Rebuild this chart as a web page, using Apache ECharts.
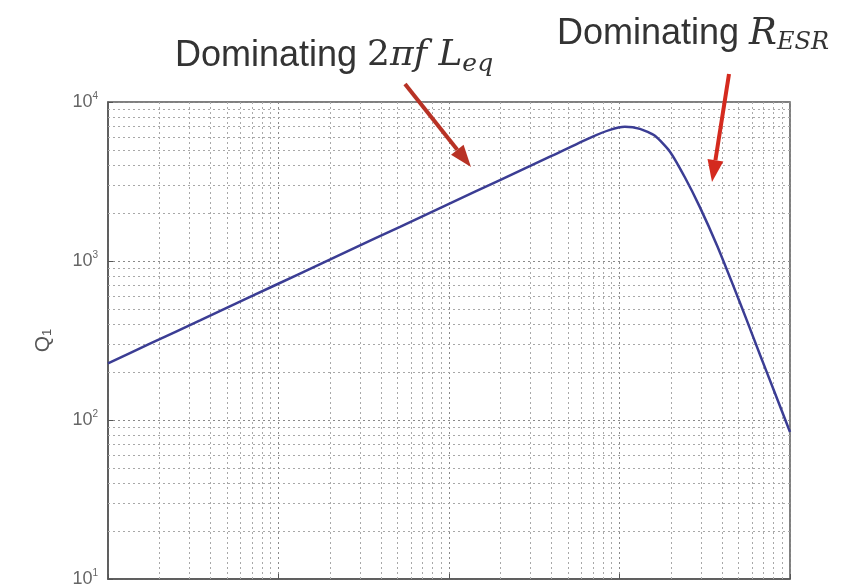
<!DOCTYPE html>
<html>
<head>
<meta charset="utf-8">
<script src="https://cdn.jsdelivr.net/npm/echarts@6/dist/echarts.min.js"></script>
<style>
html,body{margin:0;padding:0;background:#fff;}
#chart{width:856px;height:588px;}
</style>
</head>
<body>
<div id="chart"></div>
<script>
// frequency (arbitrary units, 4 decades, labels cut off in the reference)
const freq = [1, 1.762, 3.467, 6.81, 13.37, 26.24, 51.6, 101.4, 199.1, 390.8, 671.4, 879, 1076, 1318, 1614, 1977, 2421, 2965, 3733, 4634, 5598, 6668, 7943, 10000];
// quality factor Q1
const qValues = [227, 302, 423, 594, 834, 1172, 1641, 2305, 3228, 4530, 5957, 6683, 6982, 6780, 6132, 4870, 3350, 2175, 1252, 705, 420, 257, 159, 84];
// y tick exponents (10^1 .. 10^4)
const yTickExps = [1, 2, 3, 4];
const xDecades = [1, 10, 100, 1000];
const yDecades = [10, 100, 1000];
const annotation1 = 'Dominating';
const annotation2 = 'Dominating';

const chart = echarts.init(document.getElementById('chart'));

const minorX = [];
xDecades.forEach(d => { for (let k = 2; k <= 9; k++) minorX.push(d * k); });
const minorY = [];
yDecades.forEach(d => { for (let k = 2; k <= 9; k++) minorY.push(d * k); });

const gridStyle = {color: '#8a8a8a', width: 1, type: [2, 3]};

function arrow(x1, y1, x2, y2, color) {
  const ang = Math.atan2(y2 - y1, x2 - x1);
  const L = 22, W = 8;
  const bx = x2 - L * Math.cos(ang), by = y2 - L * Math.sin(ang);
  const px = -Math.sin(ang), py = Math.cos(ang);
  return [
    {type: 'line', shape: {x1: x1, y1: y1, x2: bx, y2: by}, style: {stroke: color, lineWidth: 4}, z: 100},
    {type: 'polygon', shape: {points: [[x2, y2], [bx + px * W, by + py * W], [bx - px * W, by - py * W]]}, style: {fill: color}, z: 100}
  ];
}

const option = {
  animation: false,
  backgroundColor: '#ffffff',
  grid: {left: 108, right: 66, top: 102, bottom: 5, show: true, borderColor: '#555', borderWidth: 1.5, containLabel: false},
  xAxis: {
    type: 'log', logBase: 10, min: 1, max: 10000,
    axisLine: {show: true, lineStyle: {color: '#555', width: 1.5}},
    axisTick: {show: true, inside: true, length: 5, lineStyle: {color: '#555'}},
    axisLabel: {show: false},
    splitLine: {show: true, lineStyle: gridStyle},
    minorSplitLine: {show: false}
  },
  yAxis: {
    type: 'log', logBase: 10, min: 10, max: 10000,
    name: '{q|Q}{s|1}', nameLocation: 'middle', nameGap: 54, nameRotate: 90,
    nameTextStyle: {rich: {
      q: {fontFamily: 'Liberation Sans', fontSize: 21, color: '#555'},
      s: {fontFamily: 'Liberation Sans', fontSize: 13, color: '#555', verticalAlign: 'bottom', padding: [9, 0, 0, 0]}
    }},
    axisLine: {show: true, lineStyle: {color: '#555', width: 1.5}},
    axisTick: {show: true, inside: true, length: 5, lineStyle: {color: '#555'}},
    axisLabel: {
      margin: 10,
      formatter: function (v) {
        const e = Math.round(Math.log10(v));
        return yTickExps.indexOf(e) >= 0 ? '{b|10}{e|' + e + '}' : '';
      },
      rich: {
        b: {fontFamily: 'Liberation Sans', fontSize: 18, color: '#666'},
        e: {fontFamily: 'Liberation Sans', fontSize: 10, color: '#666', verticalAlign: 'top', padding: [0, 0, 12, 0]}
      }
    },
    splitLine: {show: true, lineStyle: gridStyle},
    minorSplitLine: {show: false}
  },
  series: [
    {
      type: 'line', silent: true, data: [], symbol: 'none',
      markLine: {
        silent: true, symbol: 'none', label: {show: false}, animation: false,
        lineStyle: {color: '#a8a8a8', width: 1, type: [2, 3]},
        data: minorX.map(v => ({xAxis: v})).concat(minorY.map(v => ({yAxis: v})))
      }
    },
    {
      type: 'line', name: 'Q1',
      data: freq.map((f, i) => [f, qValues[i]]),
      symbol: 'none', smooth: 0.2,
      lineStyle: {color: '#3b3d94', width: 2.5},
      z: 10
    }
  ],
  graphic: [
    {type: 'text', left: 175, top: 38, z: 100, style: {
      text: '{a|' + annotation1 + ' }{m|2}{i|πf L}{sub|eq}',
      rich: {
        a: {fontFamily: 'Liberation Sans', fontSize: 36, fill: '#333'},
        m: {fontFamily: 'DejaVu Serif', fontSize: 36, fill: '#333'},
        i: {fontFamily: 'DejaVu Serif', fontStyle: 'italic', fontSize: 36, fill: '#333'},
        sub: {fontFamily: 'DejaVu Serif', fontStyle: 'italic', fontSize: 25, fill: '#333', verticalAlign: 'bottom', padding: [17, 0, 0, 0]}
      }
    }},
    {type: 'text', left: 557, top: 16, z: 100, style: {
      text: '{a|' + annotation2 + ' }{i|R}{sub|ESR}',
      rich: {
        a: {fontFamily: 'Liberation Sans', fontSize: 36, fill: '#333'},
        i: {fontFamily: 'DejaVu Serif', fontStyle: 'italic', fontSize: 37, fill: '#333'},
        sub: {fontFamily: 'DejaVu Serif', fontStyle: 'italic', fontSize: 24, fill: '#333', verticalAlign: 'bottom', padding: [17, 0, 0, 0]}
      }
    }}
  ].concat(arrow(405, 84, 471, 167, '#b83225')).concat(arrow(729, 74, 712, 182, '#d42a1e'))
};
chart.setOption(option);
</script>
</body>
</html>
